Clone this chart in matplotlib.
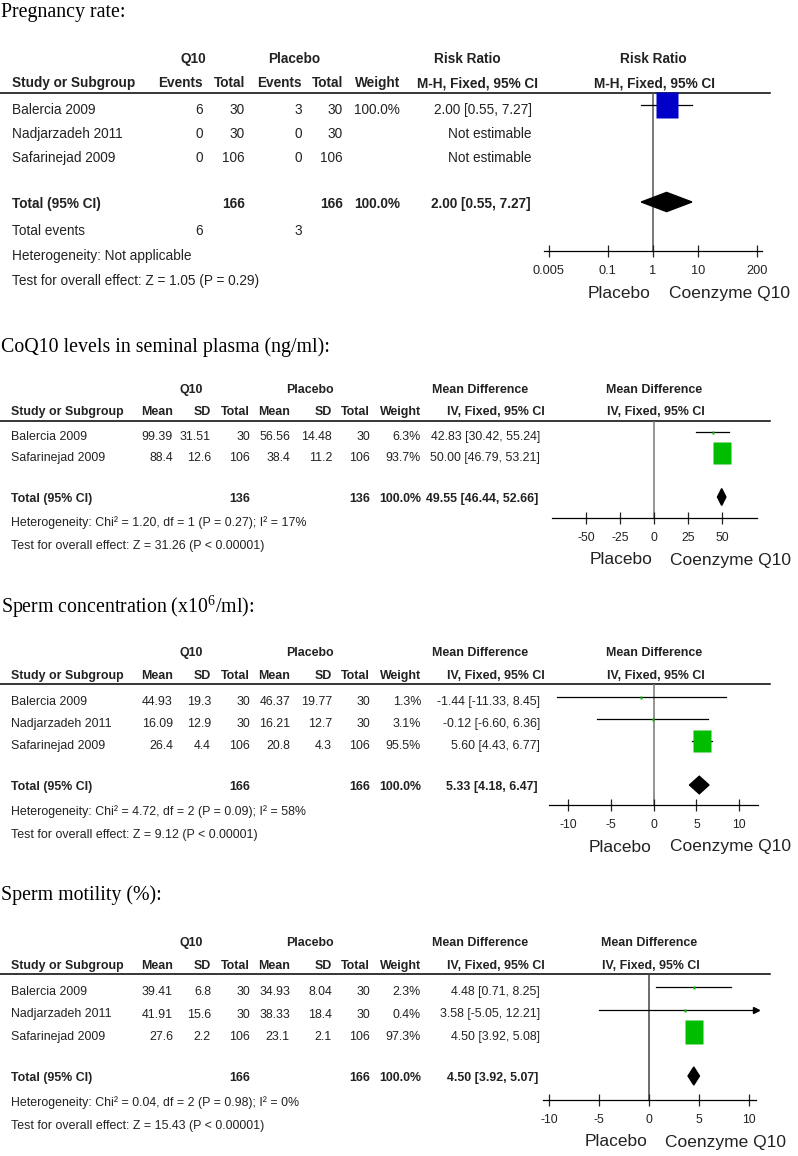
import matplotlib
matplotlib.use("Agg")
import matplotlib.pyplot as plt
from matplotlib.path import Path
from matplotlib.patches import Polygon

plt.rcParams.update({
    "font.family": "Liberation Sans",
    "mathtext.fontset": "custom",
    "mathtext.rm": "Liberation Serif",
    "mathtext.it": "Liberation Serif:italic",
    "text.color": "#222222",
})

W, H = 798, 1156

# ---------------- data ----------------
# Pregnancy rate (risk ratio)
preg_studies = ["Balercia 2009", "Nadjarzadeh 2011", "Safarinejad 2009"]
preg_q10_events = [6, 0, 0]
preg_q10_total = [30, 30, 106]
preg_pla_events = [3, 0, 0]
preg_pla_total = [30, 30, 106]
preg_weight = [100.0, None, None]
preg_rr = [2.00, None, None]
preg_lo = [0.55, None, None]
preg_hi = [7.27, None, None]
preg_pooled = [2.00, 0.55, 7.27]
preg_n = [166, 166]
preg_events = [6, 3]
preg_ticks = [0.005, 0.1, 1, 10, 200]
preg_ticklabels = ["0.005", "0.1", "1", "10", "200"]

# CoQ10 levels in seminal plasma
coq_studies = ["Balercia 2009", "Safarinejad 2009"]
coq_q10_mean = [99.39, 88.4]
coq_q10_sd = [31.51, 12.6]
coq_q10_n = [30, 106]
coq_pla_mean = [56.56, 38.4]
coq_pla_sd = [14.48, 11.2]
coq_pla_n = [30, 106]
coq_weight = [6.3, 93.7]
coq_md = [42.83, 50.00]
coq_lo = [30.42, 46.79]
coq_hi = [55.24, 53.21]
coq_pooled = [49.55, 46.44, 52.66]
coq_n = [136, 136]
coq_het = "Heterogeneity: Chi² = 1.20, df = 1 (P = 0.27); I² = 17%"
coq_z = "Test for overall effect: Z = 31.26 (P < 0.00001)"
coq_ticks = [-50, -25, 0, 25, 50]

# Sperm concentration
conc_studies = ["Balercia 2009", "Nadjarzadeh 2011", "Safarinejad 2009"]
conc_q10_mean = [44.93, 16.09, 26.4]
conc_q10_sd = [19.3, 12.9, 4.4]
conc_q10_n = [30, 30, 106]
conc_pla_mean = [46.37, 16.21, 20.8]
conc_pla_sd = [19.77, 12.7, 4.3]
conc_pla_n = [30, 30, 106]
conc_weight = [1.3, 3.1, 95.5]
conc_md = [-1.44, -0.12, 5.60]
conc_lo = [-11.33, -6.60, 4.43]
conc_hi = [8.45, 6.36, 6.77]
conc_pooled = [5.33, 4.18, 6.47]
conc_n = [166, 166]
conc_het = "Heterogeneity: Chi² = 4.72, df = 2 (P = 0.09); I² = 58%"
conc_z = "Test for overall effect: Z = 9.12 (P < 0.00001)"
conc_ticks = [-10, -5, 0, 5, 10]

# Sperm motility
mot_studies = ["Balercia 2009", "Nadjarzadeh 2011", "Safarinejad 2009"]
mot_q10_mean = [39.41, 41.91, 27.6]
mot_q10_sd = [6.8, 15.6, 2.2]
mot_q10_n = [30, 30, 106]
mot_pla_mean = [34.93, 38.33, 23.1]
mot_pla_sd = [8.04, 18.4, 2.1]
mot_pla_n = [30, 30, 106]
mot_weight = [2.3, 0.4, 97.3]
mot_md = [4.48, 3.58, 4.50]
mot_lo = [0.71, -5.05, 3.92]
mot_hi = [8.25, 12.21, 5.08]
mot_pooled = [4.50, 3.92, 5.07]
mot_n = [166, 166]
mot_het = "Heterogeneity: Chi² = 0.04, df = 2 (P = 0.98); I² = 0%"
mot_z = "Test for overall effect: Z = 15.43 (P < 0.00001)"
mot_ticks = [-10, -5, 0, 5, 10]

# ---------------- layout (pixels) ----------------
LAY1 = dict(title=13, h1=59, h2=83, line=93, row0=110, step=24, total=204,
            foot=[231, 256, 281], axis=251, fx=(544, 762))
LAY2 = dict(title=347, h1=390, h2=412, line=421, row0=437, step=21, total=499,
            foot=[523, 546], axis=518, fx=(552, 757))
LAY3 = dict(title=607, h1=653, h2=676, line=684, row0=702, step=22, total=787,
            foot=[812, 835], axis=805, fx=(549, 758))
LAY4 = dict(title=895, h1=943, h2=966, line=974, row0=992, step=22.5, total=1078,
            foot=[1103, 1126], axis=1100, fx=(543, 756))

PX = 0.72          # points per pixel at 100 dpi
GREEN = "#00bd00"
BLUE = "#0000c8"
INK = "#222222"
RECT = Path([(-0.39, -0.5), (0.39, -0.5), (0.39, 0.5), (-0.39, 0.5), (-0.39, -0.5)],
            closed=True)

fig = plt.figure(figsize=(W / 100, H / 100), dpi=100)
canvas = fig.add_axes([0, 0, 1, 1])
canvas.set_xlim(0, W)
canvas.set_ylim(H, 0)
canvas.axis("off")


def txt(x, y, s, ha="right", size=8.9, bold=False):
    canvas.text(x, y, s, ha=ha, va="center", fontsize=size,
                fontweight="bold" if bold else "normal", color=INK)


def title(lay, s):
    canvas.text(1, lay["title"], s, ha="left", va="center", fontsize=14.3,
                family="Liberation Serif", color="black")


def header_line(lay):
    canvas.plot([0, 770], [lay["line"], lay["line"]], color="black", lw=1.1)


def forest(lay, est, lo, hi, wts, pooled, color, xlim, ticks, ticklabels, null,
           heads, log=False, big=24, fs_tick=8.8, fs_head=8.9, nullcol="#666666"):
    x0, x1 = lay["fx"]
    top, bot = lay["line"], lay["axis"]
    ax = fig.add_axes([x0 / W, 1 - bot / H, (x1 - x0) / W, (bot - top) / H])
    ax.patch.set_alpha(0)
    if log:
        ax.set_xscale("log")
    ax.set_xlim(*xlim)
    step, off = lay["step"], 5
    ax.set_ylim((bot - lay["row0"] + off) / step, (top - lay["row0"] + off) / step)
    for s in ("top", "left", "right"):
        ax.spines[s].set_visible(False)
    ax.spines["bottom"].set_linewidth(0.9)
    ax.set_yticks([])
    ax.set_xticks(ticks)
    ax.set_xticklabels(ticklabels)
    ax.minorticks_off()
    ax.tick_params(axis="x", direction="inout", length=8.5, width=0.9,
                   labelsize=fs_tick, pad=5.5, colors=INK)
    ax.axvline(null, color=nullcol, lw=1.1, zorder=1)

    for i, (e, l, h, w) in enumerate(zip(est, lo, hi, wts)):
        if e is None:
            continue
        lc, hc = max(l, xlim[0]), min(h, xlim[1])
        ax.plot([lc, hc], [i, i], color="black", lw=0.9, zorder=2)
        if h > xlim[1]:
            ax.plot(hc, i, marker=">", ms=5, color="black", clip_on=False, zorder=2)
        ax.plot(e, i, marker=RECT, ms=max(3, big * w / 100) * PX, color=color,
                mec="none", zorder=3, clip_on=False)

    ty = (lay["total"] - 2 - lay["row0"] + off) / step
    e, l, h = pooled
    hh = 0.4
    ax.add_patch(Polygon([(l, ty), (e, ty - hh), (h, ty), (e, ty + hh)], closed=True,
                         color="black", zorder=3, clip_on=False))

    def lab(s, y_px, dx_px, ha, size, bold=False):
        ax.annotate(s, xy=(null, 0), xycoords=("data", "axes fraction"),
                    xytext=(dx_px * PX, (bot - y_px) * PX), textcoords="offset points",
                    ha=ha, va="center", fontsize=size,
                    fontweight="bold" if bold else "normal", color=INK,
                    annotation_clip=False)

    lab(heads[0], lay["h1"], 0, "center", fs_head, True)
    lab(heads[1], lay["h2"], 2, "center", fs_head, True)
    lab("Placebo", bot + 42, -2, "right", 12.5)
    lab("Coenzyme Q10", bot + 42, 16, "left", 12.5)
    return ax


# ---------------- panel 1: pregnancy rate ----------------
L = LAY1
fs = 9.8
title(L, "Pregnancy rate:")
txt(193, L["h1"], "Q10", "center", fs, True)
txt(294, L["h1"], "Placebo", "center", fs, True)
txt(467, L["h1"], "Risk Ratio", "center", fs, True)
txt(12, L["h2"], "Study or Subgroup", "left", fs, True)
for x, s in zip([203, 245, 302, 343, 400, 538],
                ["Events", "Total", "Events", "Total", "Weight", "M-H, Fixed, 95% CI"]):
    txt(x, L["h2"], s, "right", fs, True)
header_line(L)
for i, name in enumerate(preg_studies):
    y = L["row0"] + i * L["step"]
    txt(12, y, name, "left", fs)
    txt(203, y, str(preg_q10_events[i]), size=fs)
    txt(245, y, str(preg_q10_total[i]), size=fs)
    txt(302, y, str(preg_pla_events[i]), size=fs)
    txt(343, y, str(preg_pla_total[i]), size=fs)
    if preg_rr[i] is None:
        txt(532, y, "Not estimable", size=fs)
    else:
        txt(400, y, f"{preg_weight[i]:.1f}%", size=fs)
        txt(532, y, f"{preg_rr[i]:.2f} [{preg_lo[i]:.2f}, {preg_hi[i]:.2f}]", size=fs)
y = L["total"]
txt(12, y, "Total (95% CI)", "left", fs, True)
txt(245, y, str(preg_n[0]), size=fs, bold=True)
txt(343, y, str(preg_n[1]), size=fs, bold=True)
txt(400, y, "100.0%", size=fs, bold=True)
txt(531, y, f"{preg_pooled[0]:.2f} [{preg_pooled[1]:.2f}, {preg_pooled[2]:.2f}]",
    size=fs, bold=True)
txt(12, L["foot"][0], "Total events", "left", fs)
txt(203, L["foot"][0], str(preg_events[0]), size=fs)
txt(302, L["foot"][0], str(preg_events[1]), size=fs)
txt(12, L["foot"][1], "Heterogeneity: Not applicable", "left", fs)
txt(12, L["foot"][2], "Test for overall effect: Z = 1.05 (P = 0.29)", "left", fs)
forest(L, preg_rr, preg_lo, preg_hi, preg_weight, preg_pooled, BLUE,
       (0.0039, 257), preg_ticks, preg_ticklabels, 1,
       ("Risk Ratio", "M-H, Fixed, 95% CI"), log=True, big=27, fs_tick=9.2, fs_head=fs,
       nullcol="#555555")


# ---------------- mean difference panels ----------------
def md_panel(L, name, studies, qm, qs, qn, pm, ps, pn, wts, md, lo, hi, pooled,
             ntot, het, zt, xlim, ticks, nullcol="#777777"):
    fs = 8.9
    title(L, name)
    txt(191, L["h1"], "Q10", "center", fs, True)
    txt(310, L["h1"], "Placebo", "center", fs, True)
    txt(480, L["h1"], "Mean Difference", "center", fs, True)
    txt(11, L["h2"], "Study or Subgroup", "left", fs, True)
    for x, s in zip([173, 211, 250, 290, 332, 370, 421, 545],
                    ["Mean", "SD", "Total", "Mean", "SD", "Total", "Weight",
                     "IV, Fixed, 95% CI"]):
        txt(x, L["h2"], s, "right", fs, True)
    header_line(L)
    for i, s in enumerate(studies):
        y = L["row0"] + i * L["step"]
        txt(11, y, s, "left", fs)
        vals = [str(qm[i]), str(qs[i]), str(qn[i]), str(pm[i]), str(ps[i]), str(pn[i]),
                f"{wts[i]:.1f}%"]
        for x, v in zip([173, 211, 250, 290, 332, 370, 421], vals):
            txt(x, y, v, size=fs)
        txt(540, y, f"{md[i]:.2f} [{lo[i]:.2f}, {hi[i]:.2f}]", size=fs)
    y = L["total"]
    txt(11, y, "Total (95% CI)", "left", fs, True)
    txt(250, y, str(ntot[0]), size=fs, bold=True)
    txt(370, y, str(ntot[1]), size=fs, bold=True)
    txt(421, y, "100.0%", size=fs, bold=True)
    txt(538, y, f"{pooled[0]:.2f} [{pooled[1]:.2f}, {pooled[2]:.2f}]", size=fs, bold=True)
    txt(11, L["foot"][0], het, "left", fs)
    txt(11, L["foot"][1], zt, "left", fs)
    forest(L, md, lo, hi, wts, pooled, GREEN, xlim, ticks, [str(t) for t in ticks], 0,
           ("Mean Difference", "IV, Fixed, 95% CI"), nullcol=nullcol)


md_panel(LAY2, "CoQ10 levels in seminal plasma (ng/ml):", coq_studies,
         coq_q10_mean, coq_q10_sd, coq_q10_n, coq_pla_mean, coq_pla_sd, coq_pla_n,
         coq_weight, coq_md, coq_lo, coq_hi, coq_pooled, coq_n, coq_het, coq_z,
         (-75.2, 75.5), coq_ticks)
md_panel(LAY3, r"Sperm concentration (x10$^{\mathrm{6}}$/ml):", conc_studies,
         conc_q10_mean, conc_q10_sd, conc_q10_n, conc_pla_mean, conc_pla_sd, conc_pla_n,
         conc_weight, conc_md, conc_lo, conc_hi, conc_pooled, conc_n, conc_het, conc_z,
         (-12.25, 12.2), conc_ticks)
md_panel(LAY4, "Sperm motility (%):", mot_studies,
         mot_q10_mean, mot_q10_sd, mot_q10_n, mot_pla_mean, mot_pla_sd, mot_pla_n,
         mot_weight, mot_md, mot_lo, mot_hi, mot_pooled, mot_n, mot_het, mot_z,
         (-10.65, 10.75), mot_ticks, nullcol="#444444")

fig.savefig("out.png", dpi=100)
